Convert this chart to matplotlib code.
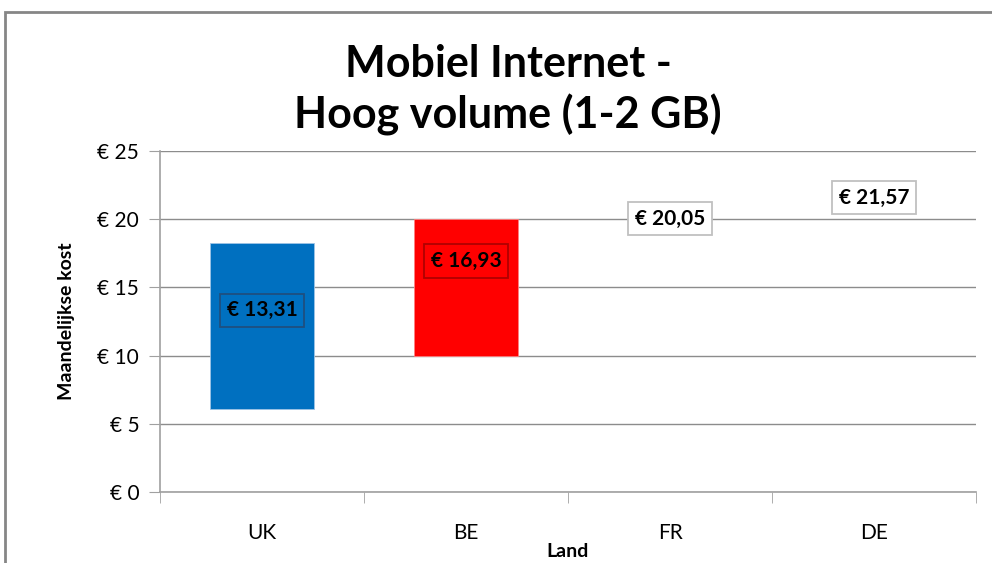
import matplotlib.pyplot as plt
from matplotlib.patches import Rectangle
from matplotlib.ticker import FuncFormatter

plt.rcParams['font.family'] = ['Lato', 'DejaVu Sans']

landen = ["UK", "BE", "FR", "DE"]
laag = [6.08, 9.97, None, None]
hoog = [18.25, 20.0, None, None]
prijs = [13.31, 16.93, 20.05, 21.57]
kleuren = ["#0070c0", "#ff0000", None, None]
randkleuren = ["#1f4f7f", "#b00000", "#c0c0c0", "#c0c0c0"]
labelkleuren = ["#0070c0", "#ff0000", "white", "white"]

fig = plt.figure(figsize=(9.92, 5.63), dpi=100)
ax = fig.add_axes([160 / 992, 1 - 492 / 563, 816 / 992, 341 / 563])

x = list(range(len(landen)))
for i in x:
    if laag[i] is not None:
        ax.bar(i, hoog[i] - laag[i], bottom=laag[i], width=0.51,
               color=kleuren[i], edgecolor="#9dc3e6" if i == 0 else "#ff8080",
               linewidth=0.6, zorder=3)
    ax.text(i, prijs[i], f"€ {prijs[i]:.2f}".replace(".", ","),
            ha="center", va="center", fontsize=15, fontweight="bold",
            zorder=5,
            bbox=dict(boxstyle="square,pad=0.32", facecolor=labelkleuren[i],
                      edgecolor=randkleuren[i], linewidth=1.3))

ax.set_xlim(-0.5, 3.5)
ax.set_ylim(0, 25)
ax.set_yticks(range(0, 26, 5))
ax.yaxis.set_major_formatter(FuncFormatter(lambda v, p: f"€ {int(v)}"))
ax.set_xticks(x)
ax.set_xticklabels(landen)
ax.set_xticks([-0.5, 0.5, 1.5, 2.5, 3.5], minor=True)
ax.tick_params(axis="x", which="major", length=0, pad=22, labelsize=15)
ax.tick_params(axis="x", which="minor", length=8, color="#a0a0a0", direction="out")
ax.tick_params(axis="y", length=8, color="#a0a0a0", pad=7, labelsize=15)

ax.grid(axis="y", color="#8c8c8c", linewidth=1, zorder=0)
ax.set_axisbelow(True)
for s in ["top", "right"]:
    ax.spines[s].set_visible(False)
ax.spines["left"].set_color("#a0a0a0")
ax.spines["bottom"].set_color("#a0a0a0")
ax.spines["left"].set_linewidth(1.2)
ax.spines["bottom"].set_linewidth(1.2)

ax.set_xlabel("Land", fontsize=14, fontweight="bold", labelpad=0)
ax.set_ylabel("Maandelijkse kost", fontsize=14, fontweight="bold", labelpad=16)

fig.text(508 / 992, 1 - 90 / 563, "Mobiel Internet -\nHoog volume (1-2 GB)",
         ha="center", va="center", fontsize=31, fontweight="bold",
         linespacing=1.3)

# omkadering van de grafiek (rechts en onder afgesneden)
fig.patches.append(Rectangle((5 / 992, -0.1), 1.2, 1 - 12 / 563 + 0.1,
                             transform=fig.transFigure, fill=False,
                             edgecolor="#868686", linewidth=2))

fig.savefig("out.png", dpi=100)
